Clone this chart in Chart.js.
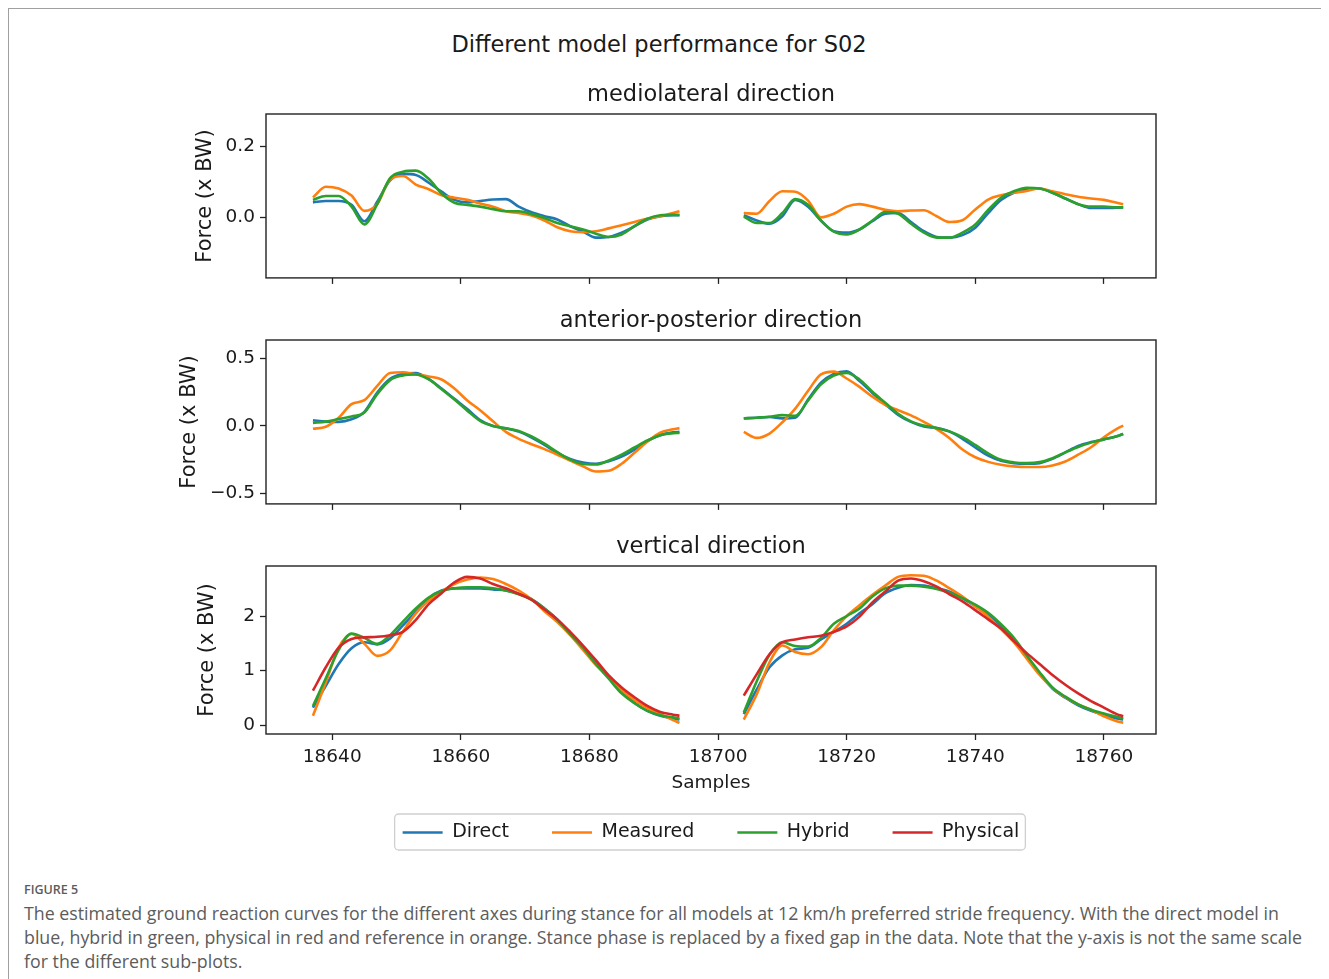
<!DOCTYPE html>
<html>
<head>
<meta charset="utf-8">
<title>Different model performance for S02</title>
<script src="https://cdn.jsdelivr.net/npm/chart.js@4.4.1/dist/chart.umd.min.js"></script>
<style>
    body { margin: 0; background: #fff; width: 1329px; height: 979px; overflow: hidden; position: relative; font-family: "DejaVu Sans", sans-serif; }
    #frame { position: absolute; left: 8px; top: 8px; width: 1312px; height: 990px; border-left: 1px solid #a0a0a0; border-top: 1px solid #a0a0a0; }
    #mainTitle { position: absolute; left: 0; top: 30px; width: 1318px; text-align: center; font-size: 22.5px; line-height: 28px; color: #1a1a1a; }
    canvas { position: absolute; left: 150px; }
    #caption { position: absolute; left: 24px; top: 881px; font-family: "Open Sans", Lato, sans-serif; color: #5c5c5c; white-space: nowrap; }
    #caption .fig { font-size: 12.5px; font-weight: 600; line-height: 18px; margin-bottom: 2px; }
    #caption .txt { font-size: 17.8px; line-height: 24px; }
</style>
</head>
<body>
<div id="frame"></div>
<div id="mainTitle">Different model performance for S02</div>
<canvas id="chartML" width="1122" height="212" style="top:82px"></canvas>
<canvas id="chartAP" width="1122" height="212" style="top:308px"></canvas>
<canvas id="chartV" width="1122" height="322" style="top:534px"></canvas>
<div id="caption">
    <div class="fig">FIGURE 5</div>
    <div class="txt">The estimated ground reaction curves for the different axes during stance for all models at 12 km/h preferred stride frequency. With the direct model in<br>blue, hybrid in green, physical in red and reference in orange. Stance phase is replaced by a fixed gap in the data. Note that the y-axis is not the same scale<br>for the different sub-plots.</div>
</div>
<script>
// Sample numbers (x) of the two stance segments
const xSeg1 = [18637, 18639, 18641, 18643, 18645, 18647, 18649, 18651, 18653, 18655,
    18657, 18659, 18661, 18663, 18665, 18667, 18669, 18671, 18673, 18675,
    18677, 18679, 18681, 18683, 18685, 18687, 18689, 18691, 18693, 18694];
const xSeg2 = [18704, 18706, 18708, 18710, 18712, 18714, 18716, 18718, 18720, 18722,
    18724, 18726, 18728, 18730, 18732, 18734, 18736, 18738, 18740, 18742,
    18744, 18746, 18748, 18750, 18752, 18754, 18756, 18758, 18760, 18762, 18763];

const seriesNames = ['Direct', 'Measured', 'Hybrid', 'Physical'];
const xTicks = [18640, 18660, 18680, 18700, 18720, 18740, 18760];

// mediolateral (segment 1 then segment 2)
const mlDirect = [0.042, 0.046, 0.046, 0.035, -0.011, 0.044, 0.104, 0.122, 0.119, 0.097, 0.072, 0.049, 0.042, 0.046, 0.050, 0.051, 0.030, 0.014, 0.003, -0.006, -0.025, -0.040, -0.057, -0.055, -0.043, -0.025, -0.006, 0.003, 0.006, 0.006,
    0.006, -0.009, -0.018, 0.003, 0.049, 0.030, -0.009, -0.039, -0.043, -0.034, -0.011, 0.010, 0.012, -0.013, -0.039, -0.055, -0.057, -0.050, -0.029, 0.012, 0.049, 0.069, 0.079, 0.081, 0.069, 0.053, 0.037, 0.026, 0.026, 0.027, 0.028];
const mlMeasured = [0.056, 0.086, 0.081, 0.061, 0.018, 0.037, 0.106, 0.116, 0.092, 0.079, 0.062, 0.055, 0.049, 0.039, 0.030, 0.017, 0.012, 0.005, -0.009, -0.028, -0.039, -0.042, -0.039, -0.031, -0.022, -0.013, -0.004, 0.003, 0.012, 0.017,
    0.012, 0.010, 0.046, 0.073, 0.072, 0.047, 0.000, 0.010, 0.030, 0.037, 0.030, 0.021, 0.017, 0.019, 0.020, 0.003, -0.013, -0.008, 0.022, 0.050, 0.062, 0.069, 0.074, 0.081, 0.073, 0.065, 0.058, 0.053, 0.049, 0.041, 0.037];
const mlHybrid = [0.049, 0.060, 0.060, 0.030, -0.020, 0.037, 0.110, 0.128, 0.131, 0.108, 0.067, 0.041, 0.035, 0.030, 0.023, 0.017, 0.017, 0.009, -0.002, -0.016, -0.025, -0.034, -0.046, -0.055, -0.048, -0.025, -0.004, 0.006, 0.007, 0.007,
    0.002, -0.016, -0.016, 0.012, 0.051, 0.035, -0.009, -0.040, -0.048, -0.034, -0.009, 0.015, 0.010, -0.018, -0.043, -0.057, -0.057, -0.043, -0.020, 0.021, 0.055, 0.073, 0.083, 0.081, 0.069, 0.053, 0.037, 0.030, 0.030, 0.028, 0.028];

// anterior-posterior
const apDirect = [0.041, 0.031, 0.029, 0.048, 0.103, 0.246, 0.347, 0.383, 0.390, 0.347, 0.275, 0.199, 0.124, 0.043, -0.002, -0.019, -0.043, -0.086, -0.141, -0.199, -0.244, -0.270, -0.280, -0.261, -0.227, -0.175, -0.112, -0.069, -0.048, -0.045,
    0.055, 0.060, 0.065, 0.055, 0.060, 0.194, 0.318, 0.383, 0.402, 0.330, 0.242, 0.158, 0.081, 0.029, -0.005, -0.017, -0.043, -0.096, -0.160, -0.220, -0.258, -0.275, -0.280, -0.275, -0.244, -0.196, -0.148, -0.120, -0.100, -0.077, -0.060];
const apMeasured = [-0.022, -0.007, 0.060, 0.160, 0.189, 0.294, 0.390, 0.395, 0.378, 0.364, 0.342, 0.275, 0.187, 0.115, 0.033, -0.045, -0.096, -0.136, -0.172, -0.213, -0.256, -0.299, -0.337, -0.332, -0.280, -0.199, -0.117, -0.050, -0.026, -0.017,
    -0.045, -0.089, -0.057, 0.026, 0.127, 0.258, 0.380, 0.400, 0.349, 0.287, 0.215, 0.155, 0.115, 0.077, 0.029, -0.024, -0.091, -0.175, -0.232, -0.266, -0.287, -0.299, -0.304, -0.304, -0.292, -0.263, -0.213, -0.158, -0.084, -0.022, 0.002];
const apHybrid = [0.022, 0.031, 0.050, 0.069, 0.098, 0.234, 0.337, 0.371, 0.378, 0.342, 0.270, 0.194, 0.112, 0.036, -0.002, -0.019, -0.038, -0.079, -0.132, -0.194, -0.249, -0.282, -0.285, -0.256, -0.213, -0.160, -0.108, -0.069, -0.055, -0.053,
    0.055, 0.060, 0.067, 0.079, 0.074, 0.187, 0.306, 0.371, 0.390, 0.342, 0.251, 0.170, 0.089, 0.033, 0.002, -0.017, -0.041, -0.084, -0.141, -0.203, -0.251, -0.270, -0.275, -0.268, -0.239, -0.196, -0.156, -0.124, -0.100, -0.077, -0.060];

// vertical
const vDirect = [0.32, 0.72, 1.12, 1.41, 1.52, 1.48, 1.59, 1.83, 2.08, 2.33, 2.47, 2.51, 2.51, 2.51, 2.49, 2.47, 2.41, 2.31, 2.14, 1.94, 1.68, 1.44, 1.15, 0.88, 0.62, 0.41, 0.26, 0.17, 0.12, 0.10,
    0.20, 0.65, 1.06, 1.28, 1.39, 1.42, 1.57, 1.71, 1.86, 2.05, 2.22, 2.42, 2.52, 2.57, 2.56, 2.51, 2.45, 2.33, 2.18, 2.02, 1.80, 1.56, 1.25, 0.95, 0.67, 0.50, 0.36, 0.26, 0.19, 0.12, 0.10];
const vMeasured = [0.17, 0.78, 1.42, 1.67, 1.49, 1.27, 1.37, 1.72, 2.05, 2.28, 2.45, 2.59, 2.67, 2.71, 2.68, 2.59, 2.47, 2.31, 2.09, 1.89, 1.65, 1.38, 1.10, 0.88, 0.64, 0.46, 0.31, 0.20, 0.09, 0.04,
    0.10, 0.56, 1.15, 1.46, 1.34, 1.30, 1.43, 1.74, 2.00, 2.20, 2.39, 2.56, 2.72, 2.75, 2.74, 2.65, 2.51, 2.36, 2.18, 1.99, 1.76, 1.52, 1.22, 0.92, 0.68, 0.51, 0.38, 0.28, 0.16, 0.07, 0.04];
const vHybrid = [0.35, 0.86, 1.38, 1.68, 1.60, 1.49, 1.65, 1.90, 2.14, 2.34, 2.46, 2.51, 2.53, 2.53, 2.51, 2.47, 2.40, 2.30, 2.14, 1.93, 1.67, 1.42, 1.12, 0.85, 0.58, 0.40, 0.26, 0.18, 0.14, 0.12,
    0.23, 0.80, 1.29, 1.52, 1.45, 1.44, 1.60, 1.86, 2.00, 2.14, 2.36, 2.51, 2.56, 2.56, 2.54, 2.50, 2.43, 2.33, 2.21, 2.06, 1.85, 1.60, 1.28, 0.97, 0.69, 0.52, 0.38, 0.28, 0.21, 0.15, 0.12];
const vPhysical = [0.63, 1.06, 1.42, 1.58, 1.61, 1.62, 1.65, 1.71, 1.93, 2.22, 2.42, 2.62, 2.72, 2.69, 2.59, 2.51, 2.41, 2.30, 2.12, 1.94, 1.71, 1.46, 1.19, 0.91, 0.69, 0.51, 0.35, 0.24, 0.19, 0.17,
    0.54, 0.93, 1.30, 1.52, 1.57, 1.61, 1.64, 1.71, 1.81, 1.99, 2.25, 2.45, 2.65, 2.69, 2.64, 2.54, 2.40, 2.27, 2.11, 1.94, 1.77, 1.54, 1.32, 1.12, 0.92, 0.74, 0.58, 0.44, 0.32, 0.20, 0.16];

// matplotlib default colours
const colors = { Direct: '#1f77b4', Measured: '#ff7f0e', Hybrid: '#2ca02c', Physical: '#d62728' };
const inkColor = '#1a1a1a';

Chart.defaults.font.family = '"DejaVu Sans", sans-serif';
Chart.defaults.color = inkColor;

/**
 * Build {x, y} points, with a null break for the stance gap
 */
function toPoints(values) {
    const pts = xSeg1.map((x, i) => ({ x: x, y: values[i] }));
    pts.push({ x: (xSeg1[xSeg1.length - 1] + xSeg2[0]) / 2, y: null });
    xSeg2.forEach((x, i) => pts.push({ x: x, y: values[xSeg1.length + i] }));
    return pts;
}

/**
 * Tick label like matplotlib (unicode minus)
 */
function formatTick(v, decimals) {
    const s = Math.abs(v) < 1e-9 ? (0).toFixed(decimals) : v.toFixed(decimals);
    return s.replace('-', '\u2212');
}

// Box around the axes (all four spines)
const spinesPlugin = {
    id: 'spines',
    afterDraw(chart) {
        const a = chart.chartArea;
        const ctx = chart.ctx;
        ctx.save();
        ctx.strokeStyle = '#222';
        ctx.lineWidth = 1.4;
        ctx.strokeRect(a.left, a.top, a.right - a.left, a.bottom - a.top);
        ctx.restore();
    }
};

// Rounded frame behind the legend entries
const legendFramePlugin = {
    id: 'legendFrame',
    beforeDraw(chart) {
        const legend = chart.legend;
        if (!legend || !legend.options.display || !legend.legendHitBoxes.length) return;
        const boxes = legend.legendHitBoxes;
        let left = Infinity, right = -Infinity, top = Infinity, bottom = -Infinity;
        boxes.forEach(b => {
            left = Math.min(left, b.left);
            right = Math.max(right, b.left + b.width);
            top = Math.min(top, b.top);
            bottom = Math.max(bottom, b.top + b.height);
        });
        const x = left - 8, y = top - 9, w = right - left + 14, h = bottom - top + 17;
        const ctx = chart.ctx;
        ctx.save();
        ctx.beginPath();
        ctx.roundRect(x, y, w, h, 4);
        ctx.fillStyle = '#fff';
        ctx.fill();
        ctx.strokeStyle = '#cfcfcf';
        ctx.lineWidth = 1.3;
        ctx.stroke();
        ctx.restore();
    }
};

/**
 * Create one sub-plot
 */
function makePanel(cfg) {
    const datasets = cfg.series.map((values, i) => ({
        label: seriesNames[i],
        data: toPoints(values),
        borderColor: colors[seriesNames[i]],
        backgroundColor: colors[seriesNames[i]],
        borderWidth: 2.6,
        pointRadius: 0,
        fill: false,
        spanGaps: false,
        cubicInterpolationMode: 'monotone',
        order: 3 - i // later series drawn on top, as in matplotlib
    }));

    const tickMarks = {
        display: true,
        drawOnChartArea: false,
        drawTicks: true,
        tickLength: 6,
        tickWidth: 1.3,
        tickColor: '#222'
    };

    return new Chart(document.getElementById(cfg.id), {
        type: 'line',
        data: { datasets: datasets },
        options: {
            responsive: false,
            animation: false,
            events: [],
            layout: { padding: { top: 0, left: 0, right: 0, bottom: cfg.showX ? 4 : 0 } },
            plugins: {
                title: {
                    display: true,
                    text: cfg.title,
                    color: inkColor,
                    font: { size: 22.5, weight: 'normal' },
                    padding: { top: 0, bottom: 5 }
                },
                legend: {
                    display: cfg.showX,
                    position: 'bottom',
                    labels: {
                        usePointStyle: true,
                        pointStyle: 'line',
                        pointStyleWidth: 40,
                        padding: 43,
                        color: inkColor,
                        font: { size: 19 },
                        sort: (a, b) => a.datasetIndex - b.datasetIndex
                    }
                },
                tooltip: { enabled: false }
            },
            scales: {
                x: {
                    type: 'linear',
                    min: 18629.7,
                    max: 18768.1,
                    grid: tickMarks,
                    border: { display: false },
                    afterBuildTicks: (scale) => { scale.ticks = xTicks.map(v => ({ value: v })); },
                    ticks: {
                        display: cfg.showX,
                        padding: 6,
                        color: inkColor,
                        font: { size: 18.5 },
                        maxRotation: 0,
                        autoSkip: false,
                        callback: (v) => String(v)
                    },
                    title: {
                        display: cfg.showX,
                        text: 'Samples',
                        color: inkColor,
                        font: { size: 18.5 },
                        padding: { top: 0, bottom: -14 }
                    },
                    afterFit: (scale) => { scale.height = cfg.showX ? 46 : 12; }
                },
                y: {
                    type: 'linear',
                    position: 'left',
                    min: cfg.yMin,
                    max: cfg.yMax,
                    grid: tickMarks,
                    border: { display: false },
                    afterBuildTicks: (scale) => { scale.ticks = cfg.yTicks.map(v => ({ value: v })); },
                    ticks: {
                        padding: 5,
                        color: inkColor,
                        font: { size: 18.5 },
                        callback: (v) => formatTick(v, cfg.decimals)
                    },
                    title: {
                        display: true,
                        text: 'Force (x BW)',
                        color: inkColor,
                        font: { size: 21 },
                        padding: { top: cfg.labelPad, bottom: 0 }
                    },
                    afterFit: (scale) => { scale.width = 116; }
                },
                // empty right axis keeps the canvas symmetric around the axes
                yRight: {
                    type: 'linear',
                    position: 'right',
                    display: true,
                    grid: { display: false },
                    border: { display: false },
                    ticks: { display: false },
                    afterFit: (scale) => { scale.width = 116; }
                }
            }
        },
        plugins: [spinesPlugin, legendFramePlugin]
    });
}

makePanel({
    id: 'chartML', title: 'mediolateral direction',
    yMin: -0.17, yMax: 0.29, yTicks: [0.0, 0.2], decimals: 1, labelPad: 43,
    series: [mlDirect, mlMeasured, mlHybrid], showX: false
});
makePanel({
    id: 'chartAP', title: 'anterior-posterior direction',
    yMin: -0.576, yMax: 0.633, yTicks: [-0.5, 0.0, 0.5], decimals: 1, labelPad: 27,
    series: [apDirect, apMeasured, apHybrid], showX: false
});
makePanel({
    id: 'chartV', title: 'vertical direction',
    yMin: -0.165, yMax: 2.92, yTicks: [0, 1, 2], decimals: 0, labelPad: 45,
    series: [vDirect, vMeasured, vHybrid, vPhysical], showX: true
});
</script>
</body>
</html>
